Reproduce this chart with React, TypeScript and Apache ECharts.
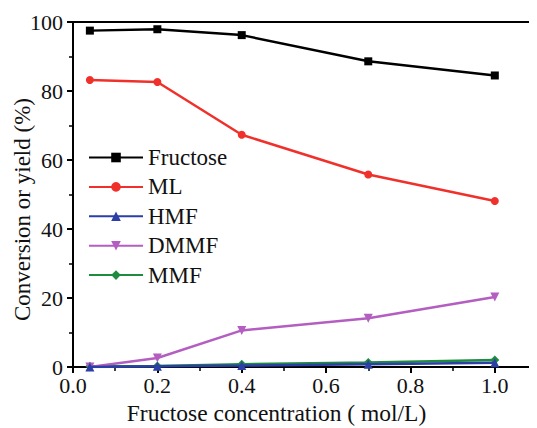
import React, { useEffect, useRef } from "react";
import * as echarts from "echarts";

const xValues = [0.04, 0.2, 0.4, 0.7, 1.0];
const fructose = [97.5, 97.9, 96.2, 88.6, 84.5];
const ml = [83.2, 82.6, 67.3, 55.8, 48.1];
const hmf = [0.0, 0.2, 0.4, 0.8, 1.2];
const dmmf = [0.0, 2.6, 10.6, 14.1, 20.3];
const mmf = [0.2, 0.3, 0.8, 1.3, 2.0];

const seriesNames = ["Fructose", "ML", "HMF", "DMMF", "MMF"];
const seriesColors = ["#000000", "#f0302a", "#2b3fa6", "#b35ec0", "#1e8c3e"];
const seriesSymbols = ["rect", "circle", "triangle", "triangle", "diamond"];
const symbolRotates = [0, 0, 0, 180, 0];
const symbolSizes = [8, 8, 9, 9, 9];
const yAxisTitle = "Conversion or yield (%)";

const FONT = "'Liberation Serif', 'Times New Roman', serif";

export default function App() {
  const ref = useRef<HTMLDivElement>(null);
  useEffect(() => {
    if (!ref.current) return;
    const chart = echarts.init(ref.current, undefined, { renderer: "svg" });
    const datasets = [fructose, ml, hmf, dmmf, mmf];
    chart.setOption({
      animation: false,
      backgroundColor: "#ffffff",
      textStyle: { fontFamily: FONT },
      grid: { left: 73, top: 22, right: 0, bottom: 61, containLabel: false, outerBoundsMode: "none" },
      graphic: [
        {
          type: "text",
          x: 22.5,
          y: 209.5,
          rotation: Math.PI / 2,
          style: {
            text: yAxisTitle,
            font: `23px ${FONT}`,
            fill: "#111",
            textAlign: "center",
            textVerticalAlign: "middle",
          },
        },
      ],
      legend: {
        left: 88,
        top: 146,
        padding: 0,
        orient: "vertical",
        itemWidth: 54,
        itemHeight: 12,
        itemGap: 6.4,
        textStyle: { fontFamily: FONT, fontSize: 23, color: "#111" },
        data: seriesNames,
      },
      xAxis: [
        {
          type: "value",
          min: 0,
          max: 1.1,
          interval: 0.2,
          name: "Fructose concentration ( mol/L)",
          nameLocation: "middle",
          nameGap: 30,
          nameTextStyle: { fontFamily: FONT, fontSize: 23.5, color: "#111", padding: [0, 57, 0, 0] },
          axisLine: { show: true, onZero: false, lineStyle: { color: "#000", width: 2 } },
          axisTick: { show: true, inside: false, length: 6, lineStyle: { color: "#000", width: 2 } },
          minorTick: { show: true, splitNumber: 2, length: 4, lineStyle: { color: "#000", width: 1.5 } },
          axisLabel: {
            fontFamily: FONT,
            fontSize: 22,
            color: "#111",
            margin: 7,
            formatter: (v: number) => (v > 1.05 ? "" : v.toFixed(1)),
          },
          splitLine: { show: false },
        },
        {
          type: "value",
          position: "top",
          min: 0,
          max: 1.1,
          axisLine: { show: true, onZero: false, lineStyle: { color: "#000", width: 2 } },
          axisTick: { show: false },
          axisLabel: { show: false },
          splitLine: { show: false },
        },
      ],
      yAxis: {
        type: "value",
        min: 0,
        max: 100,
        interval: 20,
        axisLine: { show: true, lineStyle: { color: "#000", width: 2 } },
        axisTick: { show: true, inside: false, length: 6, lineStyle: { color: "#000", width: 2 } },
        minorTick: { show: true, splitNumber: 2, length: 4, lineStyle: { color: "#000", width: 1.5 } },
        axisLabel: { fontFamily: FONT, fontSize: 22, color: "#111", margin: 10 },
        splitLine: { show: false },
      },
      series: seriesNames.map((name, i) => ({
        name,
        type: "line",
        xAxisIndex: 0,
        data: xValues.map((x, j) => [x, datasets[i][j]]),
        symbol: seriesSymbols[i],
        symbolRotate: symbolRotates[i],
        symbolSize: symbolSizes[i],
        showAllSymbol: true,
        itemStyle: { color: seriesColors[i] },
        lineStyle: { color: seriesColors[i], width: 2.5 },
        z: 10 - i,
      })),
    });
    return () => chart.dispose();
  }, []);
  return <div ref={ref} style={{ width: 537, height: 428, marginLeft: -8, marginTop: -8 }} />;
}
